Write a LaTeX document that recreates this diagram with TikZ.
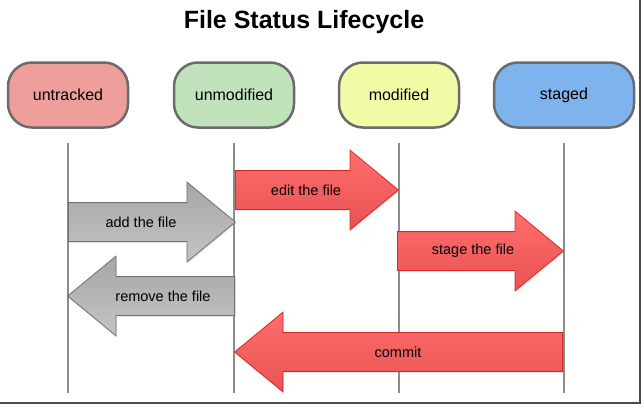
\documentclass[tikz,border=0pt]{standalone}
\usepackage{fontspec}
\setmainfont{Liberation Sans}
\usetikzlibrary{shapes.arrows,shadows,positioning}
\definecolor{untrackedc}{HTML}{EE9E9B}
\definecolor{unmodifiedc}{HTML}{C0E3BC}
\definecolor{modifiedc}{HTML}{F3FAA6}
\definecolor{stagedc}{HTML}{7FB3EE}
\definecolor{statec}{HTML}{6B6B6B}
\definecolor{lanec}{HTML}{8C8C8C}
\definecolor{redtop}{HTML}{FF6E6E}
\definecolor{redbot}{HTML}{E85252}
\definecolor{redline}{HTML}{D42A2A}
\definecolor{graytop}{HTML}{A6A6A6}
\definecolor{graybot}{HTML}{C4C4C4}
\definecolor{grayline}{HTML}{707070}
\tikzset{
  state/.style={draw=statec, line width=2.5pt, rounded corners=24pt,
    minimum width=120pt, minimum height=65pt, font=\fontsize{16}{18}\selectfont},
  lane/.style={draw=lanec, line width=2pt},
  blockarrow/.style={single arrow, single arrow head extend=20.5pt,
    single arrow tip angle=79, inner xsep=0pt, inner ysep=12.5pt,
    text height=10pt, text depth=3pt, line width=0.8pt, anchor=tail,
    drop shadow={opacity=0.2, shadow xshift=1pt, shadow yshift=-1.5pt}},
  redarrow/.style={blockarrow, draw=redline, top color=redtop, bottom color=redbot},
  grayarrow/.style={blockarrow, draw=grayline, top color=graytop, bottom color=graybot},
  arrowtext/.style={font=\fontsize{14.5}{16}\selectfont},
}
\begin{document}
\begin{tikzpicture}[x=1pt, y=-1pt]
  \useasboundingbox (0,0) rectangle (644,407);
  % 标题
  \node[font=\bfseries\fontsize{25}{30}\selectfont] (title) at (304,22) {File Status Lifecycle};

  % 四个状态
  \node[state, fill=untrackedc] (untracked) at (68,95) {untracked};
  \node[state, fill=unmodifiedc] (unmodified) at (234,95) {unmodified};
  \node[state, fill=modifiedc] (modified) at (399,95) {modified};
  \node[state, fill=stagedc, minimum width=140pt] (staged) at (564,95) {staged};

  % 竖线
  \foreach \s in {untracked,unmodified,modified,staged}
    \draw[lane] ([yshift=-14pt]\s.south) -- ++(0,250);

  % 箭头
  \node[grayarrow, minimum height=167pt] (add) at (68,222) {};
  \node[arrowtext] (addtext) at (141,222) {add the file};
  \node[redarrow, minimum height=163pt] (edit) at (235,190) {};
  \node[arrowtext] (edittext) at (306,190) {edit the file};
  \node[grayarrow, minimum height=167pt, shape border rotate=180] (remove) at (235,296) {};
  \node[arrowtext] (removetext) at (163,296) {remove the file};
  \node[redarrow, minimum height=166pt] (stage) at (397,251) {};
  \node[arrowtext] (stagetext) at (473,251) {stage the file};
  \node[redarrow, minimum height=328pt, shape border rotate=180] (commit) at (563,352) {};
  \node[arrowtext] (committext) at (398,352) {commit};

  % 边框
  \draw[line width=1.5pt, black!70] (0,403) -| (640,0);
\end{tikzpicture}
\end{document}
